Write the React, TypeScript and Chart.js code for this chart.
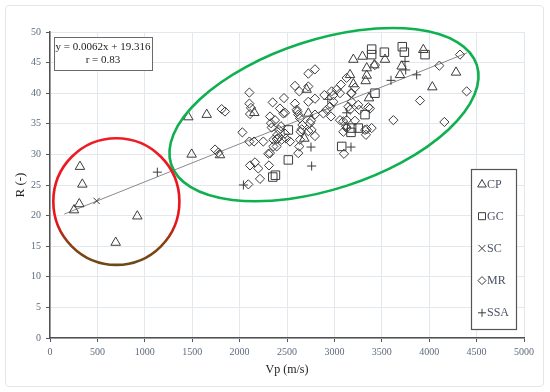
import React, { useEffect, useRef } from 'react';
import { Chart, registerables } from 'chart.js';

Chart.register(...registerables);

// ---- data ----
const seriesNames = ['CP', 'GC', 'SC', 'MR', 'SSA'];

const cpPoints: number[][] = [
  [253, 20.9], [309, 21.9], [316, 28.0], [341, 25.1], [693, 15.6], [921, 19.9],
  [1459, 36.1], [1494, 30.0], [1653, 36.5], [1793, 29.9], [2155, 36.8],
  [2683, 32.6], [2707, 40.6], [2725, 36.7],
  [3165, 43.0], [3200, 45.5], [3200, 41.5], [3296, 46.0], [3330, 42.0], [3341, 42.9], [3341, 44.1],
  [3365, 39.2], [3421, 44.6], [3534, 45.5], [3692, 43.0], [3709, 44.4], [3938, 47.1],
  [4033, 41.0], [4283, 43.4],
];

const gcPoints: number[][] = [
  [2350, 26.3], [2378, 26.6], [2514, 29.1], [2514, 34.0], [3077, 31.3], [3175, 33.6],
  [3182, 34.3], [3252, 34.3], [3323, 36.5], [3428, 40.0], [3393, 47.2], [3393, 46.3],
  [3527, 46.7], [3716, 47.6], [3738, 46.7], [3956, 46.3],
];

const scPoints: number[][] = [[492, 22.4]];

const mrPoints: number[][] = [
  [1741, 30.8], [1776, 30.3], [1811, 37.4], [1846, 37.0],
  [2103, 40.1], [2103, 38.3], [2120, 37.6], [2110, 36.6], [2029, 33.6], [2103, 32.1], [2152, 32.1],
  [2250, 32.1], [2349, 38.5], [2321, 36.2], [2331, 35.1], [2338, 34.4], [2303, 30.1], [2321, 30.2],
  [2356, 31.3], [2356, 32.4], [2405, 32.6], [2391, 31.3],
  [2110, 28.2], [2162, 28.7], [2197, 27.7], [2310, 28.2], [2215, 26.0], [2092, 25.1],
  [2725, 43.2], [2795, 43.9], [2584, 41.2], [2630, 40.3], [2725, 41.1], [2725, 38.6], [2795, 39.1],
  [2468, 39.2], [2426, 37.5], [2479, 36.8], [2609, 37.0], [2637, 35.9], [2398, 33.2], [2391, 32.5],
  [2416, 34.0], [2479, 33.4], [2489, 32.6], [2532, 32.1], [2644, 33.7], [2637, 32.4], [2630, 31.3],
  [2619, 30.2], [2795, 33.0], [2743, 35.1], [2662, 34.8], [2725, 33.8], [2444, 32.4],
  [3094, 35.4], [3122, 34.6], [3094, 33.7], [3101, 30.1], [3024, 40.6], [3069, 41.4], [2989, 39.7],
  [3129, 42.5], [2918, 37.3], [2883, 36.7], [2894, 39.7], [2971, 40.3], [3059, 40.0], [2989, 38.6],
  [2954, 37.8], [3175, 40.0],
  [3217, 40.9], [3182, 40.0], [3252, 38.1], [3358, 37.7], [3165, 37.3], [3182, 38.6], [3147, 37.8],
  [3263, 37.3], [3376, 37.5], [3059, 35.6], [3129, 34.3], [3323, 34.0], [3393, 34.3], [3333, 33.2],
  [3129, 35.6], [3217, 35.5], [3341, 34.1],
  [3428, 44.6], [3903, 38.8], [3622, 35.6], [4160, 35.3], [4395, 40.3], [4325, 46.3], [4107, 44.5],
  [2373, 35.6], [2437, 34.6], [2655, 34.1], [2753, 35.5], [2760, 34.0], [2602, 37.3], [2619, 36.5],
  [2795, 36.5], [2964, 36.2], [2461, 36.7], [2584, 38.3],
];

const ssaPoints: number[][] = [
  [1132, 27.1], [2040, 25.0], [2753, 31.2], [2760, 28.1], [2930, 39.0], [3130, 36.8], [3175, 31.2],
  [3597, 42.1], [3745, 45.2], [3752, 43.8], [3868, 43.0],
];

// trend line  y = 0.0062x + 19.316
const trendSlope = 0.0062;
const trendIntercept = 19.316;
const trendX = [150, 4400];
const equationLines = ['y = 0.0062x + 19.316', 'r = 0.83'];

// highlight ellipses in data units
const redCircle = { cx: 700, cy: 22.3, rx: 665, ry: 10.35 };
const greenEllipse = { cx: 2890, cy: 36.5, rx: 1695, ry: 12.2, angleDeg: 18 };

const SERIF = '"Liberation Serif", "DejaVu Serif", serif';
const MARK = '#3c3c3c';

const styles = ['triangle', 'rect', 'crossRot', 'rectRot', 'cross'];
const radii = [5.5, 6, 4.5, 4.6, 4.5];
const allSeries = [cpPoints, gcPoints, scPoints, mrPoints, ssaPoints];

function drawLegendMarker(ctx: CanvasRenderingContext2D, style: string, x: number, y: number) {
  ctx.beginPath();
  if (style === 'triangle') {
    ctx.moveTo(x, y - 4.5);
    ctx.lineTo(x + 4.3, y + 3);
    ctx.lineTo(x - 4.3, y + 3);
    ctx.closePath();
  } else if (style === 'rect') {
    ctx.rect(x - 3.5, y - 3.5, 7, 7);
  } else if (style === 'crossRot') {
    ctx.moveTo(x - 3.5, y - 3.5); ctx.lineTo(x + 3.5, y + 3.5);
    ctx.moveTo(x + 3.5, y - 3.5); ctx.lineTo(x - 3.5, y + 3.5);
  } else if (style === 'rectRot') {
    ctx.moveTo(x, y - 4); ctx.lineTo(x + 4, y); ctx.lineTo(x, y + 4); ctx.lineTo(x - 4, y);
    ctx.closePath();
  } else {
    ctx.moveTo(x - 4, y); ctx.lineTo(x + 4, y);
    ctx.moveTo(x, y - 4); ctx.lineTo(x, y + 4);
  }
  ctx.stroke();
}

const overlayPlugin = {
  id: 'overlay',
  afterDatasetsDraw(chart: any) {
    const { ctx, scales } = chart;
    const xs = scales.x, ys = scales.y;
    const pxPerX = Math.abs(xs.getPixelForValue(1000) - xs.getPixelForValue(0)) / 1000;
    const pxPerY = Math.abs(ys.getPixelForValue(10) - ys.getPixelForValue(0)) / 10;
    ctx.save();
    // green ellipse
    const gcx = xs.getPixelForValue(greenEllipse.cx);
    const gcy = ys.getPixelForValue(greenEllipse.cy);
    ctx.beginPath();
    ctx.ellipse(gcx, gcy, greenEllipse.rx * pxPerX, greenEllipse.ry * pxPerY,
      -greenEllipse.angleDeg * Math.PI / 180, 0, Math.PI * 2);
    ctx.strokeStyle = '#0fb050';
    ctx.lineWidth = 2.6;
    ctx.stroke();
    // red circle
    const rcx = xs.getPixelForValue(redCircle.cx);
    const rcy = ys.getPixelForValue(redCircle.cy);
    const rrx = redCircle.rx * pxPerX, rry = redCircle.ry * pxPerY;
    const grad = ctx.createLinearGradient(0, rcy - rry, 0, rcy + rry);
    grad.addColorStop(0, '#ee1c24');
    grad.addColorStop(0.66, '#e8141c');
    grad.addColorStop(0.82, '#8a3e12');
    grad.addColorStop(1, '#6c4a14');
    ctx.beginPath();
    ctx.ellipse(rcx, rcy, rrx, rry, 0, 0, Math.PI * 2);
    ctx.strokeStyle = grad;
    ctx.lineWidth = 2.6;
    ctx.stroke();
    ctx.restore();
  },
  afterDraw(chart: any) {
    const { ctx, chartArea } = chart;
    ctx.save();
    // equation box
    const ex = chartArea.left + 4, ey = chartArea.top + 5, ew = 98, eh = 33;
    ctx.fillStyle = '#ffffff';
    ctx.fillRect(ex, ey, ew, eh);
    ctx.strokeStyle = '#6a6a6a';
    ctx.lineWidth = 1;
    ctx.strokeRect(ex + 0.5, ey + 0.5, ew, eh);
    ctx.fillStyle = '#222';
    ctx.font = '11px ' + SERIF;
    ctx.textAlign = 'center';
    ctx.textBaseline = 'middle';
    ctx.fillText(equationLines[0], ex + ew / 2, ey + 10);
    ctx.fillText(equationLines[1], ex + ew / 2, ey + 23.5);

    // legend box
    const lx = chartArea.right - 53, ly = chartArea.top + 137, lw = 45, lh = 160;
    ctx.fillStyle = '#ffffff';
    ctx.fillRect(lx, ly, lw, lh);
    ctx.strokeStyle = '#555';
    ctx.lineWidth = 1.2;
    ctx.strokeRect(lx + 0.5, ly + 0.5, lw, lh);
    ctx.font = '12px ' + SERIF;
    ctx.textAlign = 'left';
    ctx.textBaseline = 'middle';
    seriesNames.forEach((name, i) => {
      const cy = ly + 15 + i * 32.2;
      ctx.strokeStyle = MARK;
      ctx.lineWidth = 1;
      drawLegendMarker(ctx, styles[i], lx + 11, cy);
      ctx.fillStyle = '#4a5262';
      ctx.fillText(name, lx + 16, cy + 0.5);
    });
    ctx.restore();
  },
};

export default function App() {
  const canvasRef = useRef<HTMLCanvasElement | null>(null);

  useEffect(() => {
    if (!canvasRef.current) return;
    const datasets: any[] = allSeries.map((pts, i) => ({
      type: 'scatter',
      label: seriesNames[i],
      data: pts.map(([x, y]) => ({ x, y })),
      pointStyle: styles[i],
      pointRadius: radii[i],
      pointHoverRadius: radii[i],
      pointBorderColor: MARK,
      pointBackgroundColor: 'rgba(0,0,0,0)',
      pointBorderWidth: 1,
      showLine: false,
    }));
    datasets.push({
      type: 'scatter',
      label: 'trend',
      data: trendX.map((x) => ({ x, y: trendSlope * x + trendIntercept })),
      showLine: true,
      borderColor: '#8a8a8a',
      borderWidth: 1,
      pointRadius: 0,
      fill: false,
    });

    const chart = new Chart(canvasRef.current, {
      type: 'scatter',
      data: { datasets },
      options: {
        responsive: false,
        animation: false,
        layout: { padding: { left: 0, right: 26, top: 32, bottom: 0 } },
        plugins: { legend: { display: false }, tooltip: { enabled: false } },
        scales: {
          x: {
            type: 'linear',
            min: 0,
            max: 5000,
            afterFit: (s: any) => { s.height = 54; },
            ticks: {
              stepSize: 500, color: '#5d6b7d', font: { family: SERIF, size: 10 }, padding: 4, maxRotation: 0,
              callback: (v: any) => String(v),
            },
            grid: { color: '#e3e8ee', lineWidth: 1, tickLength: 4, tickColor: '#555' },
            border: { display: true, color: '#505050', width: 1.5 },
            title: { display: true, text: 'Vp (m/s)', color: '#222', font: { family: SERIF, size: 12 }, padding: { bottom: 15, top: 0 } },
          },
          y: {
            type: 'linear',
            min: 0,
            max: 50,
            afterFit: (s: any) => { s.width = 50; },
            ticks: { stepSize: 5, color: '#5d6b7d', font: { family: SERIF, size: 10 }, padding: 5, callback: (v: any) => String(v) },
            grid: { color: '#e3e8ee', lineWidth: 1, tickLength: 4, tickColor: '#555' },
            border: { display: true, color: '#505050', width: 1.5 },
            title: { display: true, text: 'R (-)', color: '#222', font: { family: SERIF, size: 13 }, padding: { top: 13, bottom: 0 } },
          },
        },
      },
      plugins: [overlayPlugin],
    } as any);
    return () => chart.destroy();
  }, []);

  return (
    <div style={{ position: 'fixed', left: 0, top: 0, width: 550, height: 392, background: '#fff' }}>
      <div style={{ position: 'absolute', left: 5, top: 5, width: 537, height: 380, border: '1px solid #e6e6e6', borderRadius: 4 }} />
      <canvas ref={canvasRef} width={550} height={392} style={{ position: 'absolute', left: 0, top: 0, width: 550, height: 392 }} />
    </div>
  );
}
